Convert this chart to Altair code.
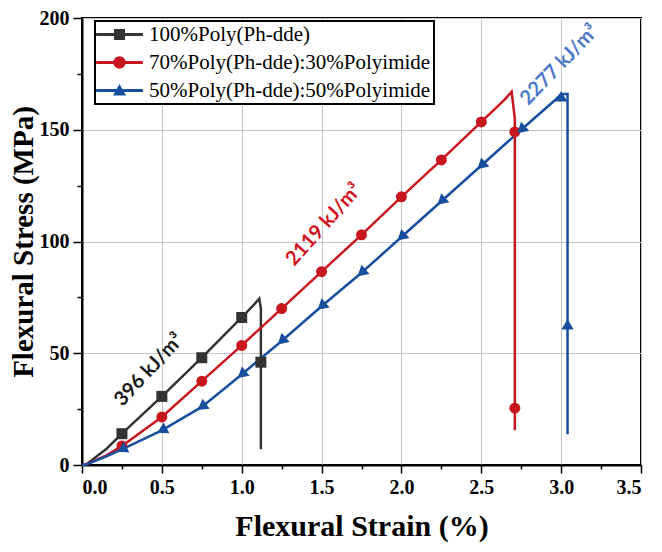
import altair as alt
import pandas as pd

series = ["100%Poly(Ph-dde)", "70%Poly(Ph-dde):30%Polyimide", "50%Poly(Ph-dde):50%Polyimide"]
line_colors = ["#333333", "#c8161e", "#174f9e"]
text_colors = ["#1a1a1a", "#d0141c", "#4a78c8"]

# curve traces (strain %, stress MPa), in drawing order
black_strain = [0.0, 0.03, 0.15, 0.25, 0.5, 0.75, 1.0, 1.08, 1.11, 1.12, 1.12]
black_stress = [0.0, 0.5, 7.0, 14.0, 30.7, 48.0, 66.0, 72.0, 74.5, 70.0, 7.0]
red_strain = [0.0, 0.03, 0.15, 0.25, 0.5, 0.75, 1.0, 1.25, 1.5, 1.75, 2.0, 2.25, 2.5, 2.64, 2.69, 2.71, 2.71]
red_stress = [0.0, 0.4, 4.2, 8.5, 21.5, 37.5, 53.5, 70.0, 86.5, 103.0, 120.0, 136.5, 153.5, 163.0, 167.0, 155.0, 15.5]
blue_strain = [0.0, 0.03, 0.15, 0.25, 0.5, 0.75, 1.0, 1.25, 1.5, 1.75, 2.0, 2.25, 2.5, 2.75, 2.95, 3.0, 3.04, 3.04]
blue_stress = [0.0, 0.3, 3.8, 7.0, 15.5, 26.0, 40.5, 55.5, 71.0, 86.0, 102.0, 118.0, 134.0, 150.0, 162.5, 166.0, 166.0, 13.8]

# marker positions
black_mk_strain = [0.25, 0.5, 0.75, 1.0, 1.12]
black_mk_stress = [14.0, 30.7, 48.0, 66.0, 46.0]
red_mk_strain = [0.25, 0.5, 0.75, 1.0, 1.25, 1.5, 1.75, 2.0, 2.25, 2.5, 2.71, 2.71]
red_mk_stress = [8.5, 21.5, 37.5, 53.5, 70.0, 86.5, 103.0, 120.0, 136.5, 153.5, 149.0, 25.4]
blue_mk_strain = [0.25, 0.5, 0.75, 1.0, 1.25, 1.5, 1.75, 2.0, 2.25, 2.5, 2.75, 3.0, 3.04]
blue_mk_stress = [7.0, 15.5, 26.0, 40.5, 55.5, 71.0, 86.0, 102.0, 118.0, 134.0, 150.0, 165.0, 63.0]
blue_mk_angle = [244, 242, 235, 230, 229, 229, 229, 228, 228, 228, 228, 0, 0]

# annotations
ann_text = ["396 kJ/m\u00b3", "2119 kJ/m\u00b3", "2277 kJ/m\u00b3"]
ann_strain = [0.42, 1.515, 2.99]
ann_stress = [42.5, 107.5, 179.0]
ann_angle = [313, 312, 314]

x_ticks = [0, 0.25, 0.5, 0.75, 1.0, 1.25, 1.5, 1.75, 2.0, 2.25, 2.5, 2.75, 3.0, 3.25, 3.5]
y_ticks = [0, 25, 50, 75, 100, 125, 150, 175, 200]

# legend symbols: line + marker, custom paths
legend_paths = [
    "M-3.6,-0.22H3.6V0.22H-3.6Z M-0.85,-0.85H0.85V0.85H-0.85Z",
    "M-3.6,-0.22H3.6V0.22H-3.6Z M-0.95,0A0.95,0.95,0,1,1,0.95,0A0.95,0.95,0,1,1,-0.95,0Z",
    "M-3.6,-0.22H3.6V0.22H-3.6Z M0,-1.0L1.0,0.75H-1.0Z",
]

SERIF = "Liberation Serif"

x_enc = alt.X(
    "strain:Q",
    scale=alt.Scale(domain=[0, 3.5], nice=False, zero=False),
    axis=alt.Axis(
        values=x_ticks,
        labelExpr="datum.value % 0.5 === 0 ? format(datum.value, '.1f') : ''",
        labelFont=SERIF, labelFontWeight="bold", labelFontSize=20, labelColor="black",
        tickSize={"condition": {"test": "datum.value % 0.5 === 0", "value": 8}, "value": 4},
        gridOpacity={"condition": {"test": "datum.value % 0.5 === 0", "value": 1}, "value": 0},
        title="Flexural Strain (%)", titleFontSize=30,
    ),
)
y_enc = alt.Y(
    "stress:Q",
    scale=alt.Scale(domain=[0, 200], nice=False, zero=False),
    axis=alt.Axis(
        values=y_ticks,
        labelExpr="datum.value % 50 === 0 ? format(datum.value, 'd') : ''",
        labelFont=SERIF, labelFontWeight="bold", labelFontSize=20, labelColor="black",
        tickSize={"condition": {"test": "datum.value % 50 === 0", "value": 9}, "value": 5},
        gridOpacity={"condition": {"test": "datum.value % 50 === 0", "value": 1}, "value": 0},
        title="Flexural Stress (MPa)", titleFontSize=29,
    ),
)


def curve_df(xs, ys):
    return pd.DataFrame({"strain": xs, "stress": ys, "ord": list(range(len(xs)))})


layers = []
for xs, ys, col in [(black_strain, black_stress, line_colors[0]),
                    (red_strain, red_stress, line_colors[1]),
                    (blue_strain, blue_stress, line_colors[2])]:
    layers.append(
        alt.Chart(curve_df(xs, ys)).mark_line(color=col, strokeWidth=2.5).encode(
            x=x_enc, y=y_enc, order=alt.Order("ord:Q")
        )
    )

layers.append(
    alt.Chart(pd.DataFrame({"strain": black_mk_strain, "stress": black_mk_stress}))
    .mark_point(shape="square", filled=True, size=121, color=line_colors[0], opacity=1)
    .encode(x=x_enc, y=y_enc)
)
layers.append(
    alt.Chart(pd.DataFrame({"strain": red_mk_strain, "stress": red_mk_stress}))
    .mark_point(shape="circle", filled=True, size=121, color=line_colors[1], opacity=1)
    .encode(x=x_enc, y=y_enc)
)
layers.append(
    alt.Chart(pd.DataFrame({"strain": blue_mk_strain, "stress": blue_mk_stress, "ang": blue_mk_angle}))
    .mark_point(shape="triangle-up", filled=True, size=150, color=line_colors[2], opacity=1)
    .encode(x=x_enc, y=y_enc, angle=alt.Angle("ang:Q", scale=None))
)

layers.append(
    alt.Chart(pd.DataFrame({"strain": ann_strain, "stress": ann_stress, "label": ann_text,
                            "ang": ann_angle, "col": text_colors}))
    .mark_text(font="Lato", fontWeight="bold", fontSize=20, align="center", baseline="middle")
    .encode(x=x_enc, y=y_enc, text="label:N", angle=alt.Angle("ang:Q", scale=None),
            color=alt.Color("col:N", scale=None))
)

legend_def = alt.Legend(title=None, orient="none", legendX=13, legendY=3)
layers.append(
    alt.Chart(pd.DataFrame({"series": series}))
    .mark_point(filled=True, opacity=0)
    .encode(
        color=alt.Color("series:N", scale=alt.Scale(domain=series, range=line_colors), legend=legend_def),
        shape=alt.Shape("series:N", scale=alt.Scale(domain=series, range=legend_paths), legend=legend_def),
    )
)

chart = (
    alt.layer(*layers)
    .properties(width=559, height=447, autosize=alt.AutoSizeParams(type="none"),
                padding={"left": 74, "top": 10, "right": 12, "bottom": 78})
    .configure_view(stroke="black", strokeWidth=2)
    .configure_axis(
        domainColor="black", domainWidth=2, tickColor="black", tickWidth=1.5,
        gridColor="#c4c4c4", gridWidth=1,
        labelFont=SERIF, labelFontWeight="bold", labelFontSize=20, labelColor="black",
        titleFont=SERIF, titleFontWeight="bold", titleFontSize=30, titleColor="black",
    )
    .configure_axisX(labelPadding=4, titlePadding=14)
    .configure_axisY(labelPadding=4, titlePadding=1)
    .configure_legend(
        strokeColor="black", strokeWidth=2, fillColor="white", padding=3, rowPadding=6,
        symbolSize=169, symbolStrokeWidth=0, symbolOpacity=1, symbolOffset=11, labelOffset=19,
        labelFont=SERIF, labelFontSize=21, labelColor="black", labelLimit=400,
    )
)

chart.save("out.html", embed_options={"renderer": "svg", "actions": False})
